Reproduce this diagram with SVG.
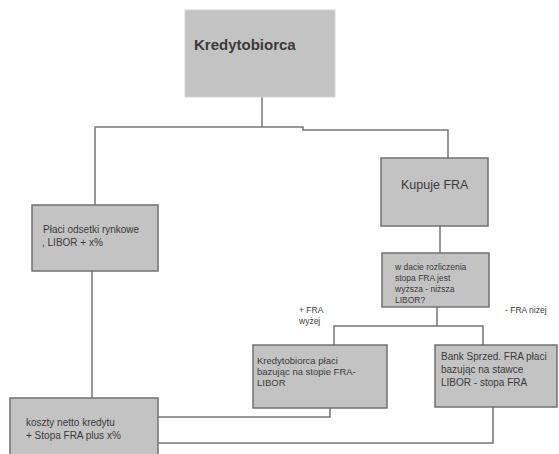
<svg xmlns="http://www.w3.org/2000/svg" width="559" height="454" viewBox="0 0 559 454">
<style>
.box{fill:#c3c3c3;stroke:#727272;stroke-width:1.5}
.top{fill:#c3c3c3;stroke:#d6d6d6;stroke-width:1}
.t{font-family:"Liberation Sans",Arial,sans-serif;fill:#3a3a3a}
.c{fill:none;stroke:#767676;stroke-width:1.5}
</style>
<rect width="559" height="454" fill="#ffffff"/>
<g id="connectors">
<polyline class="c" points="262,97 262,127"/>
<polyline class="c" points="95,205 95,127 303,127 303,130 448,130 448,158"/>
<polyline class="c" points="92,271 92,398"/>
<polyline class="c" points="440,226 440,253"/>
<polyline class="c" points="437,307 437,326"/>
<polyline class="c" points="334,345 334,326 483,326 483,345"/>
<polyline class="c" points="330,408 330,417 157,417"/>
<polyline class="c" points="493,407 493,443 157,443"/>
</g>
<g id="kredytobiorca">
<rect class="top" x="185" y="10" width="150" height="87"/>
<text class="t" x="194" y="50" font-size="15" font-weight="bold" fill="#2a2a2a">Kredytobiorca</text>
</g>
<g id="kupuje">
<rect class="box" x="381" y="158" width="107" height="68"/>
<text class="t" x="401" y="189" font-size="12.5">Kupuje FRA</text>
</g>
<g id="placi">
<rect class="box" x="32" y="205" width="126" height="66"/>
<text class="t" x="43" y="233" font-size="10">Płaci odsetki rynkowe</text>
<text class="t" x="42" y="246" font-size="10">, LIBOR + x%</text>
</g>
<g id="decyzja">
<rect class="box" x="382" y="253" width="107" height="54"/>
<text class="t" x="395" y="270" font-size="8.5">w dacie rozliczenia</text>
<text class="t" x="395" y="281" font-size="8.5">stopa FRA jest</text>
<text class="t" x="395" y="292" font-size="8.5">wyższa - niższa</text>
<text class="t" x="395" y="303" font-size="8.5">LIBOR?</text>
</g>
<g id="labels">
<text class="t" x="299" y="313" font-size="8.5">+ FRA</text>
<text class="t" x="299" y="324" font-size="8.5">wyżej</text>
<text class="t" x="505" y="313" font-size="8.5">- FRA niżej</text>
</g>
<g id="kredytobiorca-placi">
<rect class="box" x="253" y="345" width="134" height="63"/>
<text class="t" x="257" y="364" font-size="9.5">Kredytobiorca płaci</text>
<text class="t" x="257" y="375" font-size="9.5">bazując na stopie FRA-</text>
<text class="t" x="257" y="386" font-size="9.5">LIBOR</text>
</g>
<g id="bank">
<rect class="box" x="435" y="345" width="122" height="62"/>
<text class="t" x="441" y="360" font-size="10">Bank Sprzed. FRA płaci</text>
<text class="t" x="441" y="373" font-size="10">bazując na stawce</text>
<text class="t" x="441" y="386" font-size="10">LIBOR - stopa FRA</text>
</g>
<g id="koszty">
<rect class="box" x="10" y="398" width="148" height="62"/>
<text class="t" x="26" y="426" font-size="10">koszty netto kredytu</text>
<text class="t" x="26" y="439" font-size="10">+ Stopa FRA plus x%</text>
</g>
</svg>
